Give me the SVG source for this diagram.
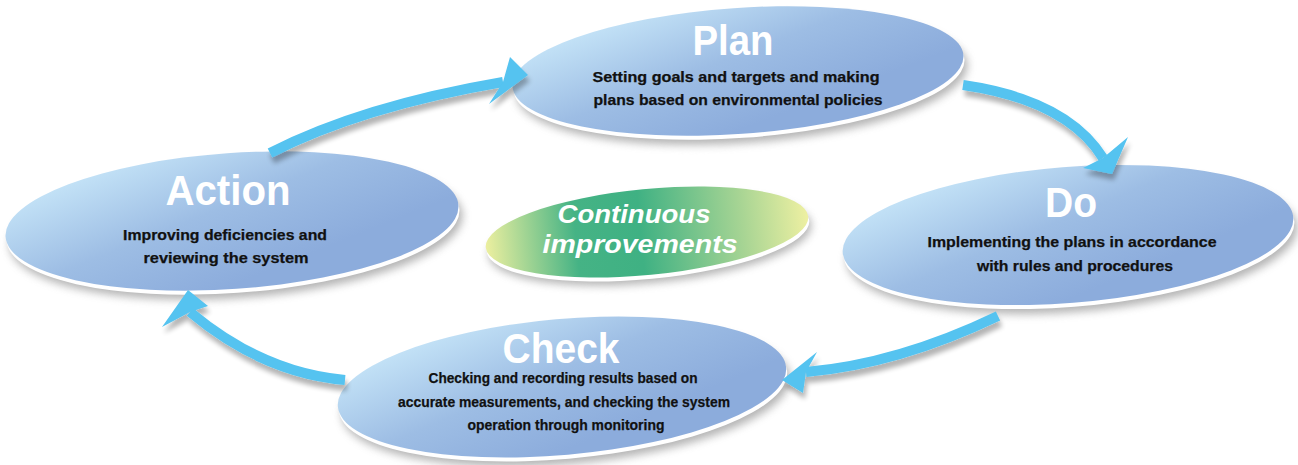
<svg xmlns="http://www.w3.org/2000/svg" width="1298" height="465" viewBox="0 0 1298 465">
<style>
.title{font-family:"Liberation Sans",Arial,sans-serif;font-weight:bold;fill:#fff;text-anchor:middle;font-size:42px}
.body{font-family:"Liberation Sans",Arial,sans-serif;font-weight:bold;fill:#111;stroke:#111;stroke-width:0.25;text-anchor:middle;font-size:15px}
.ci{font-family:"Liberation Sans",Arial,sans-serif;font-weight:bold;font-style:italic;fill:#fff;text-anchor:middle;font-size:25px}
.band{fill:none;stroke:#54c3f0;stroke-width:10}
.head{fill:#54c3f0}
.rim{fill:#fff}
.shadow{fill:#777;opacity:0.55}
</style>
<defs>
<linearGradient id="blue" x1="0" y1="0.2" x2="0.65" y2="0.8">
<stop offset="0" stop-color="#c8e7f9"/>
<stop offset="0.55" stop-color="#9dbde4"/>
<stop offset="1" stop-color="#8cacdc"/>
</linearGradient>
<linearGradient id="green" x1="0" y1="0" x2="1" y2="0">
<stop offset="0" stop-color="#ecef9f"/>
<stop offset="0.28" stop-color="#45b385"/>
<stop offset="0.48" stop-color="#3fb183"/>
<stop offset="0.8" stop-color="#a9d594"/>
<stop offset="1" stop-color="#eef0a2"/>
</linearGradient>
<filter id="blur" x="-20%" y="-40%" width="140%" height="180%">
<feGaussianBlur stdDeviation="4"/>
</filter>
<filter id="ashadow" x="-20%" y="-30%" width="140%" height="170%">
<feGaussianBlur in="SourceAlpha" stdDeviation="2.5"/>
<feOffset dx="2" dy="6"/>
<feComponentTransfer><feFuncA type="linear" slope="0.3"/></feComponentTransfer>
<feMerge><feMergeNode/><feMergeNode in="SourceGraphic"/></feMerge>
</filter>
</defs>

<g id="plan">
<ellipse class="shadow" cx="742" cy="80" rx="226" ry="63" transform="rotate(-4 742 80)" filter="url(#blur)"/>
<ellipse class="rim" cx="739" cy="75" rx="226" ry="63" transform="rotate(-4 739 75)"/>
<ellipse cx="738" cy="71" rx="226" ry="63" transform="rotate(-4 738 71)" fill="url(#blue)"/>
<text class="title" x="733" y="55" textLength="81" lengthAdjust="spacingAndGlyphs">Plan</text>
<text class="body" x="736" y="82" textLength="287" lengthAdjust="spacingAndGlyphs">Setting goals and targets and making</text>
<text class="body" x="738" y="105" textLength="289" lengthAdjust="spacingAndGlyphs">plans based on environmental policies</text>
</g>

<g id="action">
<ellipse class="shadow" cx="236" cy="230" rx="227" ry="68" transform="rotate(-4 236 230)" filter="url(#blur)"/>
<ellipse class="rim" cx="233" cy="225" rx="227" ry="68" transform="rotate(-4 233 225)"/>
<ellipse cx="232" cy="221" rx="227" ry="68" transform="rotate(-4 232 221)" fill="url(#blue)"/>
<text class="title" x="228" y="205" textLength="125" lengthAdjust="spacingAndGlyphs">Action</text>
<text class="body" x="225" y="240" textLength="204" lengthAdjust="spacingAndGlyphs">Improving deficiencies and</text>
<text class="body" x="226" y="263" textLength="165" lengthAdjust="spacingAndGlyphs">reviewing the system</text>
</g>

<g id="do">
<ellipse class="shadow" cx="1072" cy="244" rx="226" ry="68" transform="rotate(-4.5 1072 244)" filter="url(#blur)"/>
<ellipse class="rim" cx="1069" cy="239" rx="226" ry="68" transform="rotate(-4.5 1069 239)"/>
<ellipse cx="1068" cy="235" rx="226" ry="68" transform="rotate(-4.5 1068 235)" fill="url(#blue)"/>
<text class="title" x="1071" y="217" textLength="52" lengthAdjust="spacingAndGlyphs">Do</text>
<text class="body" x="1072" y="247" textLength="289" lengthAdjust="spacingAndGlyphs">Implementing the plans in accordance</text>
<text class="body" x="1075" y="271" textLength="196" lengthAdjust="spacingAndGlyphs">with rules and procedures</text>
</g>

<g id="check">
<ellipse class="shadow" cx="566" cy="396" rx="225" ry="68" transform="rotate(-5 566 396)" filter="url(#blur)"/>
<ellipse class="rim" cx="563" cy="391" rx="225" ry="68" transform="rotate(-5 563 391)"/>
<ellipse cx="562" cy="387" rx="225" ry="68" transform="rotate(-5 562 387)" fill="url(#blue)"/>
<text class="title" x="561" y="363" textLength="117" lengthAdjust="spacingAndGlyphs">Check</text>
<text class="body" x="563" y="383" font-size="14.5" textLength="269" lengthAdjust="spacingAndGlyphs">Checking and recording results based on</text>
<text class="body" x="564" y="407" font-size="14.5" textLength="332" lengthAdjust="spacingAndGlyphs">accurate measurements, and checking the system</text>
<text class="body" x="566" y="430" font-size="14.5" textLength="197" lengthAdjust="spacingAndGlyphs">operation through monitoring</text>
</g>

<g id="continuous">
<ellipse class="shadow" cx="650" cy="240" rx="162" ry="43" transform="rotate(-5.5 650 240)" filter="url(#blur)" opacity="0.4"/>
<ellipse class="rim" cx="648" cy="236" rx="162" ry="43" transform="rotate(-5.5 648 236)"/>
<ellipse cx="647" cy="232" rx="162" ry="43" transform="rotate(-5.5 647 232)" fill="url(#green)"/>
<text class="ci" x="634" y="223" textLength="153" lengthAdjust="spacingAndGlyphs">Continuous</text>
<text class="ci" x="640" y="253" textLength="195" lengthAdjust="spacingAndGlyphs">improvements</text>
</g>

<g id="connectors" filter="url(#ashadow)">
<path class="band" d="M270,153 Q362,106 503,82"/>
<polygon class="head" points="528,75 510,57 503,82 489,104"/>
<path class="band" d="M963,85 Q1067,100 1103,158"/>
<polygon class="head" points="1112,174 1128,137 1103,158 1083,168"/>
<path class="band" d="M998,316 Q898,364 806,372"/>
<polygon class="head" points="782,380 817,352 806,372 803,393"/>
<path class="band" d="M345,380 Q263,373 190,312"/>
<polygon class="head" points="188,290 208,306 190,312 162,327"/>
</g>
</svg>
